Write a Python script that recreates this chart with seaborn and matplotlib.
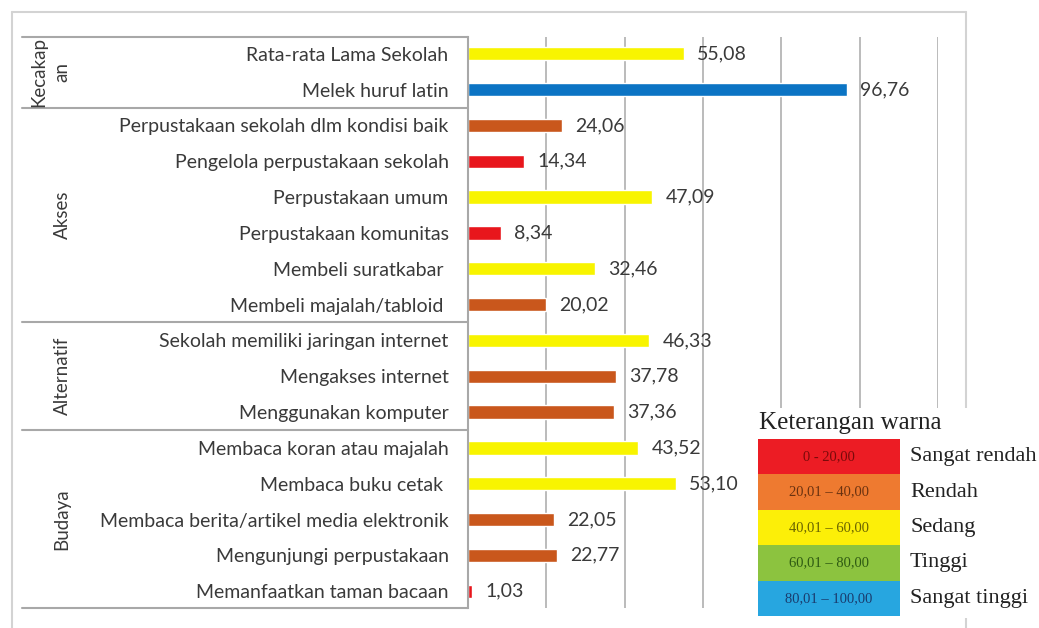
import matplotlib.pyplot as plt
import matplotlib.transforms as mtransforms
from matplotlib.lines import Line2D
from matplotlib.patches import Rectangle
import pandas as pd
import seaborn as sns

# Data
categories = [
    "Rata-rata Lama Sekolah",
    "Melek huruf latin",
    "Perpustakaan sekolah dlm kondisi baik",
    "Pengelola perpustakaan sekolah",
    "Perpustakaan umum",
    "Perpustakaan komunitas",
    "Membeli suratkabar ",
    "Membeli majalah/tabloid ",
    "Sekolah memiliki jaringan internet",
    "Mengakses internet",
    "Menggunakan komputer",
    "Membaca koran atau majalah",
    "Membaca buku cetak ",
    "Membaca berita/artikel media elektronik",
    "Mengunjungi perpustakaan",
    "Memanfaatkan taman bacaan",
]
values = [55.08, 96.76, 24.06, 14.34, 47.09, 8.34, 32.46, 20.02,
          46.33, 37.78, 37.36, 43.52, 53.10, 22.05, 22.77, 1.03]
bar_class = ["sedang", "sangat_tinggi", "rendah", "sangat_rendah", "sedang",
             "sangat_rendah", "sedang", "rendah", "sedang", "rendah", "rendah",
             "sedang", "sedang", "rendah", "rendah", "sangat_rendah"]
groups = ["Kecakap\nan"] * 2 + ["Akses"] * 6 + ["Alternatif"] * 3 + ["Budaya"] * 5
grid_ticks = [20, 40, 60, 80, 100, 120]

bar_palette = {
    "sangat_rendah": "#E8161C",
    "rendah": "#C9571C",
    "sedang": "#F8F400",
    "sangat_tinggi": "#0B74C4",
}

legend_title = "Keterangan warna"
legend_ranges = ["0 - 20,00", "20,01 – 40,00", "40,01 – 60,00", "60,01 – 80,00", "80,01 – 100,00"]
legend_names = ["Sangat rendah", "Rendah", "Sedang", "Tinggi", "Sangat tinggi"]
legend_colors = ["#EC1C24", "#EE7A30", "#FCEF08", "#8CC33F", "#27A6E0"]
legend_text_colors = ["#7A0A0A", "#6A3210", "#6A6400", "#2E5A12", "#1A3C6E"]

df = pd.DataFrame({"kategori": categories, "nilai": values, "kelas": bar_class, "grup": groups})

W, H = 1039, 628


def fx(px):
    return px / W


def fy(py):
    return 1 - py / H


sns.set_theme(style="white")
plt.rcParams["font.family"] = ["Lato", "DejaVu Sans"]

fig = plt.figure(figsize=(W / 100, H / 100), dpi=100)
ax = fig.add_axes([fx(468), fy(608), fx(938) - fx(468), fy(37) - fy(608)])

sns.barplot(data=df, y="kategori", x="nilai", hue="kelas", palette=bar_palette,
            dodge=False, legend=False, width=0.37, orient="h", ax=ax, saturation=1)

ax.set_xlim(0, grid_ticks[-1])
ax.set_ylim(len(categories) - 0.53, -0.47)
ax.set_xticks(grid_ticks)
ax.set_xticklabels([])
ax.grid(axis="x", color="#B5B5B5", linewidth=1.3)
ax.set_axisbelow(True)
ax.set_xlabel("")
ax.set_ylabel("")
ax.tick_params(axis="y", length=0, pad=14, labelsize=14, labelcolor="#3A3A3A")
ax.tick_params(axis="x", length=0)
for s in ["top", "right", "bottom"]:
    ax.spines[s].set_visible(False)
ax.spines["left"].set_color("#A8A8A8")
ax.spines["left"].set_linewidth(1.5)

# value labels
for cont in ax.containers:
    labels = [f"{b.get_width():.2f}".replace(".", ",") if b.get_width() > 0 else "" for b in cont]
    ax.bar_label(cont, labels=labels, padding=9.5, fontsize=14, color="#3A3A3A")

# group table lines and labels
trans = mtransforms.blended_transform_factory(fig.transFigure, ax.transData)
group_names = list(dict.fromkeys(groups))
bounds = [-0.47]
for g in group_names:
    idx = [i for i, gg in enumerate(groups) if gg == g]
    bounds.append(idx[-1] + 0.5)
bounds[-1] = len(categories) - 0.53
for b in bounds:
    ax.add_line(Line2D([fx(22), fx(468)], [b, b], transform=trans, color="#A8A8A8",
                       linewidth=1.5, clip_on=False))
for i, g in enumerate(group_names):
    mid = (bounds[i] + bounds[i + 1]) / 2
    ax.text(fx(50) if "\n" in g else fx(62), mid, g, transform=trans, rotation=90,
            ha="center", va="center", fontsize=13.5, color="#3A3A3A", linespacing=1.45)

# outer frame
frame_kw = dict(color="#D3D3D3", linewidth=1.5)
fig.add_artist(Line2D([fx(12), fx(12)], [fy(12), fy(628)], **frame_kw))
fig.add_artist(Line2D([fx(12), fx(966)], [fy(12), fy(12)], **frame_kw))
fig.add_artist(Line2D([fx(966), fx(966)], [fy(12), fy(628)], **frame_kw))

# colour key
fig.add_artist(Rectangle((fx(752), fy(618)), fx(1039) - fx(752), fy(408) - fy(618),
                         facecolor="white", edgecolor="none", zorder=5))
fig.text(fx(759), fy(423), legend_title, family="Liberation Serif", fontsize=18,
         color="#222222", va="center", ha="left", zorder=6)
row_h = 35.4
for i, (rng, name, col, tcol) in enumerate(zip(legend_ranges, legend_names, legend_colors, legend_text_colors)):
    top = 439 + i * row_h
    fig.add_artist(Rectangle((fx(758), fy(top + row_h)), fx(900) - fx(758), fy(top) - fy(top + row_h),
                             facecolor=col, edgecolor="none", zorder=6))
    fig.text(fx(829), fy(top + row_h / 2), rng, family="Liberation Serif", fontsize=10.5,
             color=tcol, ha="center", va="center", zorder=7)
    fig.text(fx(910), fy(top + row_h / 2), name, family="Liberation Serif", fontsize=16,
             color="#222222", ha="left", va="center", zorder=7)

fig.savefig("out.png", dpi=100)
